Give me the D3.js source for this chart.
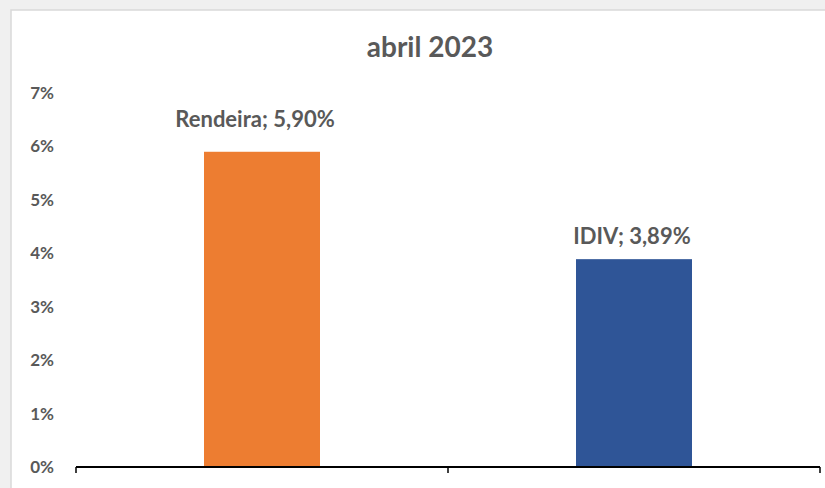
<!DOCTYPE html>
<head>
<meta http-equiv="Content-type" content="text/html;charset=UTF-8">
</head>
<style>
body { margin: 0; background: #f0f0f0; overflow: hidden; }
svg { display: block; }
.axis .domain { display: none; }
</style>
<svg width="825" height="488"></svg>
<script src="https://d3js.org/d3.v7.min.js"></script>
<script>

var categories = ["Rendeira", "IDIV"];
var values = [5.90, 3.89];
var labels = ["Rendeira; 5,90%", "IDIV; 3,89%"];
var colors = ["#ED7D31", "#2F5597"];
var yTicks = [0, 1, 2, 3, 4, 5, 6, 7];
var title = "abril 2023";

var svg = d3.select("svg"),
    margin = {top: 93, right: 5, bottom: 21, left: 76},
    width = +svg.attr("width") - margin.left - margin.right,
    height = +svg.attr("height") - margin.top - margin.bottom;

var font = "Lato, 'Open Sans', sans-serif";
var textColor = "#595959";

// white panel
svg.append("rect")
    .attr("x", 11).attr("y", 10)
    .attr("width", 830).attr("height", 490)
    .attr("fill", "#fff")
    .attr("stroke", "#d9d9d9")
    .attr("stroke-width", 1.5);

var g = svg.append("g").attr("transform", "translate(" + margin.left + "," + margin.top + ")");

var x = d3.scaleBand()
    .domain(categories)
    .range([0, 744])
    .paddingInner(0)
    .paddingOuter(0);

var y = d3.scaleLinear()
    .domain([0, 7])
    .range([374, 0]);

var barW = 116;

g.selectAll("rect.bar")
    .data(values)
    .enter().append("rect")
      .attr("class", "bar")
      .attr("x", function(d, i) { return x(categories[i]) + x.bandwidth() / 2 - barW / 2; })
      .attr("y", function(d) { return y(d); })
      .attr("width", barW)
      .attr("height", function(d) { return y(0) - y(d); })
      .attr("fill", function(d, i) { return colors[i]; });

// data labels (excel placed them by hand, offsets differ a bit)
g.selectAll("text.lbl")
    .data(values)
    .enter().append("text")
      .attr("class", "lbl")
      .attr("x", function(d, i) { return x(categories[i]) + x.bandwidth() / 2 + (i == 0 ? -7 : -2); })
      .attr("y", function(d, i) { return y(d) - (i == 0 ? 32 : 23); })
      .attr("dy", "0.35em")
      .attr("text-anchor", "middle")
      .attr("font-family", font)
      .attr("font-weight", "bold")
      .attr("font-size", 22)
      .attr("fill", textColor)
      .text(function(d, i) { return labels[i]; });

// y axis labels
g.append("g")
    .attr("class", "axis")
    .attr("transform", "translate(-19,0)")
    .call(d3.axisLeft(y).tickValues(yTicks).tickSize(0).tickFormat(function(d) { return d + "%"; }))
    .call(function(a) {
      a.selectAll("text")
        .attr("font-family", font)
        .attr("font-weight", "bold")
        .attr("font-size", 17)
        .attr("fill", textColor);
    });

// x axis line with outer ticks
var xa = g.append("g").attr("transform", "translate(0," + y(0) + ")");
xa.append("line")
    .attr("x1", 0).attr("x2", 744)
    .attr("stroke", "#000").attr("stroke-width", 2);
xa.selectAll("line.tick")
    .data([0, 372, 744])
    .enter().append("line")
      .attr("class", "tick")
      .attr("x1", function(d) { return d; })
      .attr("x2", function(d) { return d; })
      .attr("y1", 0).attr("y2", 6)
      .attr("stroke", "#000").attr("stroke-width", 1.5);

// title
svg.append("text")
    .attr("x", 430)
    .attr("y", 47)
    .attr("dy", "0.35em")
    .attr("text-anchor", "middle")
    .attr("font-family", font)
    .attr("font-weight", "bold")
    .attr("font-size", 28)
    .attr("fill", textColor)
    .text(title);

</script>
